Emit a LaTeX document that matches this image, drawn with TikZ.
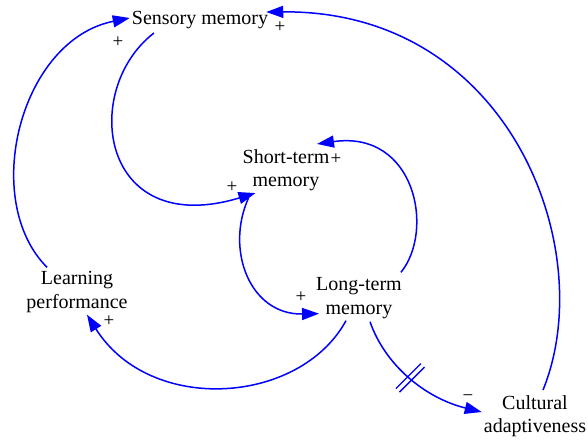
\documentclass[tikz,border=0pt]{standalone}
\usepackage{fontspec}
\setmainfont{Liberation Serif}
\usetikzlibrary{arrows.meta}
\definecolor{linkblue}{RGB}{0,0,255}
\tikzset{
  var/.style={align=center, inner sep=2pt, font=\fontsize{20}{23.5}\selectfont},
  sgn/.style={inner sep=0pt, font=\fontsize{19}{21}\selectfont},
  link/.style={draw=linkblue, line width=1.5pt, -{Triangle[length=17pt,width=12pt]}},
  bar/.style={draw=linkblue, line width=1.3pt}
}
\begin{document}
\begin{tikzpicture}[x=1pt,y=-1pt]
\useasboundingbox (0,0) rectangle (588,442);
\node[var] (sm) at (200,20) {Sensory memory};
\node[var] (stm) at (286,170) {Short-term\\memory};
\node[var] (ltm) at (359,298) {Long-term\\memory};
\node[var] (lp) at (77,292) {Learning\\performance};
\node[var] (ca) at (535,416) {Cultural\\adaptiveness};

% Learning -> Sensory
\draw[link] ([shift={(-30,-2)}]lp.north) .. controls (-20,200) and (20,40) .. ([shift={(0,-2)}]sm.west);
% Cultural -> Sensory
\draw[link] ([shift={(8,-3)}]ca.north) .. controls (600,250) and (510,10) .. ([shift={(-4,-8)}]sm.east);
% Sensory -> Short-term
\draw[link] ([shift={(-46,2)}]sm.south) .. controls (80,90) and (100,240) .. ([shift={(15,0)}]stm.south west);
% Long-term -> Short-term
\draw[link] ([shift={(-3,-3)}]ltm.north east) .. controls (435,230) and (415,130) .. ([shift={(31,-3)}]stm.north);
% Short-term -> Long-term
\draw[link] ([shift={(8,5)}]stm.south west) .. controls (225,250) and (250,315) .. ([shift={(5,-7)}]ltm.south west);
% Long-term -> Learning
\draw[link] ([shift={(-13,0)}]ltm.south) .. controls (300,405) and (150,415) .. ([shift={(10,0)}]lp.south);
% Long-term -> Cultural (delayed)
\draw[link] ([shift={(11,1)}]ltm.south) .. controls (385,365) and (425,398) .. ([shift={(0,-4)}]ca.west)
  coordinate[pos=0.5] (dl);
\draw[bar] ([shift={(-14.3,10.7)}]dl) -- ([shift={(10.7,-14.3)}]dl);
\draw[bar] ([shift={(-10.7,14.3)}]dl) -- ([shift={(14.3,-10.7)}]dl);

\node[sgn] (p1) at (118,42) {+};
\node[sgn] (p2) at (280,27) {+};
\node[sgn] (p3) at (232,187) {+};
\node[sgn] (p4) at (336,159) {+};
\node[sgn] (p5) at (301,297) {+};
\node[sgn] (p6) at (109,321) {+};
\node[sgn] (m1) at (468,398) {−};
\end{tikzpicture}
\end{document}
